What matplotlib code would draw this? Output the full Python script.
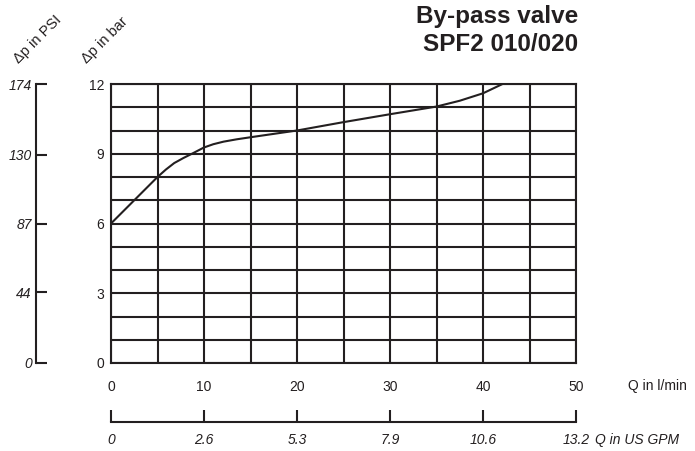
import matplotlib
matplotlib.use("Agg")
import matplotlib.pyplot as plt

# curve (Q in l/min, dp in bar)
q_lpm = [0, 2.5, 5, 5.9, 6.8, 7.8, 8.7, 10, 11, 12.1, 13.5, 15, 20, 25, 30, 35, 37.5, 40, 42.1]
dp_bar = [6.0, 7.0, 8.0, 8.32, 8.6, 8.82, 9.0, 9.27, 9.41, 9.52, 9.62, 9.71, 10.0, 10.36, 10.7, 11.03, 11.28, 11.6, 12.0]

# axes ticks / labels
q_ticks = [0, 10, 20, 30, 40, 50]
gpm_labels = ["0", "2.6", "5.3", "7.9", "10.6", "13.2"]
bar_ticks = [0, 3, 6, 9, 12]
psi_ticks = [0, 44, 87, 130, 174]
psi_labels = ["0", "44", "87", "130", "174"]

plt.rcParams["font.family"] = ["Liberation Sans", "DejaVu Sans"]
ink = "#231f20"
lw = 1.5
W, H = 695, 451

fig = plt.figure(figsize=(6.95, 4.51), dpi=100)

# main grid chart
ax = fig.add_axes([111 / W, 1 - 363 / H, 465 / W, 279 / H])
ax.plot(q_lpm, dp_bar, color=ink, lw=lw, zorder=3, clip_on=True)
ax.set_xlim(0, 50)
ax.set_ylim(0, 12)
ax.set_xticks(q_ticks)
ax.set_xticks(range(0, 51, 5), minor=True)
ax.set_yticks(bar_ticks)
ax.set_yticks(range(0, 13), minor=True)
ax.grid(which="both", color=ink, lw=lw)
ax.tick_params(which="both", length=0, labelsize=10, labelcolor=ink)
ax.tick_params(axis="x", pad=12)
ax.tick_params(axis="y", pad=5)
for s in ax.spines.values():
    s.set_color(ink)
    s.set_linewidth(lw)

# PSI scale on the far left
axp = fig.add_axes([36 / W, 1 - 363 / H, 12 / W, 279 / H])
axp.set_ylim(0, 174)
axp.set_xlim(0, 1)
axp.set_yticks(psi_ticks)
axp.set_yticklabels(psi_labels, style="italic")
axp.set_xticks([])
for k in ["top", "right", "bottom"]:
    axp.spines[k].set_visible(False)
axp.spines["left"].set_color(ink)
axp.spines["left"].set_linewidth(lw)
axp.tick_params(axis="y", direction="in", length=8, width=lw, color=ink,
                labelsize=10, labelcolor=ink, pad=3)
axp.patch.set_alpha(0)

# US GPM scale at the bottom
axg = fig.add_axes([111 / W, 1 - 422 / H, 465 / W, 12 / H])
axg.set_xlim(0, 50)
axg.set_ylim(0, 1)
axg.set_xticks(q_ticks)
axg.set_xticklabels(gpm_labels, style="italic")
axg.set_yticks([])
for k in ["top", "right", "left"]:
    axg.spines[k].set_visible(False)
axg.spines["bottom"].set_color(ink)
axg.spines["bottom"].set_linewidth(lw)
axg.tick_params(axis="x", direction="in", length=8.6, width=lw, color=ink,
                labelsize=10, labelcolor=ink, pad=8)
axg.patch.set_alpha(0)

# axis titles
fig.text(628 / W, 1 - 386 / H, "Q in l/min", fontsize=10, color=ink, va="center")
fig.text(595 / W, 1 - 440 / H, "Q in US GPM", fontsize=10, color=ink,
         va="center", style="italic")
fig.text(19 / W, 1 - 64 / H, "Δp in PSI", fontsize=10.5, color=ink, rotation=45,
         rotation_mode="anchor", ha="left", va="baseline")
fig.text(87 / W, 1 - 64 / H, "Δp in bar", fontsize=10.5, color=ink, rotation=45,
         rotation_mode="anchor", ha="left", va="baseline")

# title
fig.text(578 / W, 1 - 23 / H, "By-pass valve", fontsize=17.5, fontweight="bold",
         color=ink, ha="right", va="baseline")
fig.text(578 / W, 1 - 51 / H, "SPF2 010/020", fontsize=17.5, fontweight="bold",
         color=ink, ha="right", va="baseline")

fig.savefig("out.png", dpi=100)
